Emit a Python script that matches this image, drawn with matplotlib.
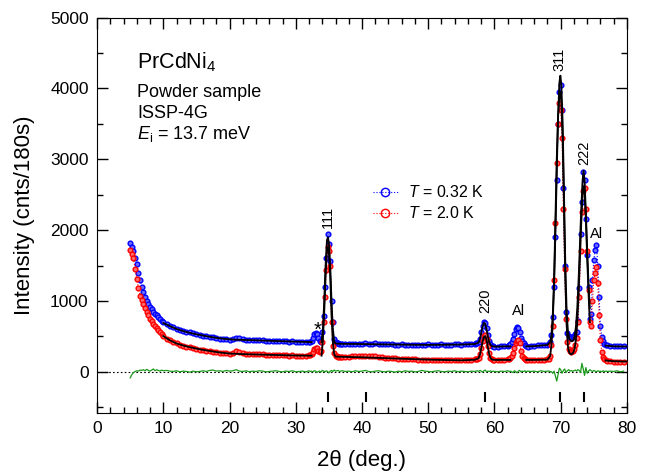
import matplotlib
matplotlib.use("Agg")

import matplotlib.pyplot as plt
import numpy as np
from matplotlib.lines import Line2D
from matplotlib.ticker import MultipleLocator

plt.rcParams["font.family"] = ["Liberation Sans", "DejaVu Sans"]
plt.rcParams["mathtext.fontset"] = "custom"
plt.rcParams["mathtext.rm"] = "Liberation Sans"
plt.rcParams["mathtext.it"] = "Liberation Sans:italic"
plt.rcParams["mathtext.bf"] = "Liberation Sans:bold"

# scan segments of the measurement: (start, stop, step) in 2theta
SCAN_SEGMENTS = [
    (5.0, 10.0, 0.25),
    (10.5, 32.0, 0.5),
    (32.2, 37.0, 0.2),
    (37.5, 57.0, 0.5),
    (57.2, 60.0, 0.2),
    (60.5, 62.0, 0.5),
    (62.2, 65.0, 0.2),
    (65.5, 68.0, 0.5),
    (68.2, 77.0, 0.2),
    (77.5, 79.5, 0.5),
]

# T = 0.32 K counts
I_032K = [
    1820, 1760, 1700, 1610, 1520, 1400, 1290, 1200, 1120, 1060, 1005, 960, 920, 885, 850, 820, 795, 770, 745, 720, 703,
    675, 650, 630, 610, 595, 580, 565, 555, 545, 535, 520, 510, 505, 495, 485, 478, 470, 462, 458, 455, 465, 480,
    475, 460, 452, 448, 446, 452, 448, 444, 440, 436, 440, 436, 432, 438, 430, 426, 428, 424, 420, 418, 415, 420,
    425, 440, 480, 530, 550, 540, 480, 430, 420, 560, 790, 1200, 1600, 1940, 1800, 1560, 1000, 700, 470, 420, 405,
    400, 398, 395, 392,
    395, 392, 398, 394, 390, 396, 400, 392, 395, 405, 398, 390, 386, 392, 388, 384, 380, 386, 382, 378, 384, 380,
    376, 378, 382, 386, 380, 376, 384, 388, 382, 378, 384, 390, 386, 382, 388, 392, 396, 398,
    400, 405, 420, 470, 560, 650, 700, 690, 620, 520, 440, 395, 370, 360, 355,
    355, 358, 360, 370,
    380, 395, 420, 460, 540, 610, 635, 620, 560, 480, 430, 400, 375, 362, 356,
    360, 365, 372, 378, 380, 385,
    395, 420, 520, 780, 1200, 1900, 2700, 3500, 3950, 4050, 3700, 2600, 1500, 850, 545, 500, 490, 480, 485, 500,
    530, 560, 720, 1180, 1950, 2400, 2820, 2700, 2150, 1650, 1200, 740, 820, 1300, 1580, 1720, 1790, 1500, 1050,
    650, 490, 430, 395, 380, 372,
    365, 360, 362, 358, 360,
]

# T = 2.0 K counts
I_20K = [
    1720, 1660, 1600, 1450, 1310, 1180, 1075, 1010, 960, 900, 845, 795, 750, 715, 680, 650, 620, 590, 565, 535, 505,
    470, 445, 420, 400, 385, 370, 357, 345, 335, 325, 315, 307, 300, 292, 285, 278, 272, 266, 260, 255, 268, 290,
    280, 262, 255, 250, 252, 248, 250, 246, 243, 240, 244, 238, 240, 236, 234, 230, 232, 226, 225, 228, 224, 240,
    240, 255, 285, 320, 340, 335, 300, 280, 300, 420, 700, 1060, 1440, 1760, 1700, 1500, 700, 360, 270, 230, 220,
    215, 212, 215, 210,
    212, 215, 220, 218, 225, 228, 222, 220, 226, 225, 215, 205, 200, 198, 192, 190, 185, 188, 182, 178, 175, 178,
    172, 169, 172, 168, 165, 170, 166, 162, 165, 160, 163, 160, 165, 162, 160, 165, 170, 175,
    178, 185, 200, 250, 340, 430, 500, 515, 470, 360, 260, 200, 175, 168, 165,
    168, 165, 170, 180,
    185, 200, 230, 270, 330, 400, 440, 450, 400, 300, 230, 195, 178, 170, 168,
    168, 170, 166, 170, 172, 175,
    180, 220, 380, 640, 1300, 2100, 2950, 3500, 3800, 3700, 3300, 2300, 1450, 750, 420, 320, 290, 285, 295, 320,
    380, 480, 700, 1060, 1700, 2250, 2550, 2600, 2300, 1700, 1150, 700, 650, 1000, 1300, 1400, 1480, 1250, 800,
    450, 280, 210, 180, 165, 158,
    150, 145, 142, 140, 142,
]

# difference curve
DIFF = [
    -85, -40, -10, 5, 15, 10, 25, 20, 30, 15, 35, 20, 10, 25, 40, 15, 30, 20, 10, 25, 15,
    20, 10, 5, 15, 0, 10, 5, -5, 10, 0, 5, 15, 5, 20, 25, 10, 15, 5, 20, 10, 15, 30, 10, 5, 15, 0, 10, 5, 15, 10,
    0, 5, 10, 15, 5, 0, 10, 5, 15, 0, 5, 10, 0, 15,
    5, 10, 0, 15, 10, -10, 5, 10, -5, 20, 10, 0, 15, 5, -15, 10, 20, 5, 25, 10, 15, 20, 5, 10, 15,
    5, 10, 0, 15, 5, 10, 20, 5, 0, 10, 15, 5, 0, 10, 5, -5, 10, 0, 15, 5, 10, 0, 5, 20, 10, 5, 0, 10, 15, 5, 0,
    10, 5, 15, 0, 10, 5, 0, 10, 5,
    10, 15, 5, 20, 10, -5, 15, 25, 0, 10, 5, 15, 0, 10, 5,
    0, 10, 5, 15,
    5, 10, 0, -10, 15, 5, -15, 10, 20, 0, 10, 5, 15, 0, 10,
    5, 10, 0, 15, 5, 10,
    10, 5, 0, -20, 10, -60, -130, -40, 50, 30, -20, 20, 40, -10, 15, 30, 10, 20, 5, 15, 25, 10, 30, 20, -10,
    120, 40, -50, 60, -20, 10, 30, 15, 5, 20, 10, 0, 15, 5, 10, 0, 15, 5, 10, 5,
    10, 5, 15, 0, 10,
]

# fitted profiles (nan = excluded region)
FIT_X = [
    10, 11, 12, 13, 14, 15, 16, 17, 18, 19, 20, 22, 24, 26, 28, 30, 32.4, np.nan,
    33.9, 34.1, 34.3, 34.5, 34.7, 34.85, 35.0, 35.2, 35.4, 35.6, 35.8, 36.0, 37, 40, 45, 50, 55, 57, 57.6, 57.8,
    58.0, 58.2, 58.4, 58.6, 58.8, 59.0, 59.2, 59.4, 59.6, 60, 62.4, np.nan,
    64.8, 66, 68, 68.4, 68.6, 68.8, 69.0, 69.2, 69.4, 69.6, 69.8, 69.95, 70.1, 70.3, 70.5, 70.7, 70.9, 71.1,
    71.3, 71.6, 71.9, 72.1, 72.3, 72.5, 72.7, 72.9, 73.1, 73.3, 73.45, 73.6, 73.8, 74.0, 74.2, 74.4, np.nan,
    76.8, 78, 80,
]
FIT_032K = [
    690, 645, 605, 575, 550, 530, 512, 495, 480, 468, 458, 450, 445, 438, 432, 426, 420, np.nan,
    420, 600, 1000, 1500, 1850, 1900, 1820, 1500, 1000, 600, 430, 400, 395, 392, 385, 380, 385, 392, 410, 460,
    550, 640, 690, 680, 600, 500, 420, 380, 362, 356, 360, np.nan,
    360, 362, 380, 420, 520, 800, 1250, 1950, 2800, 3600, 4080, 4180, 4050, 3500, 2500, 1500, 850, 560,
    470, 430, 440, 500, 640, 900, 1300, 1800, 2300, 2700, 2840, 2700, 2250, 1700, 1250, 900, np.nan,
    370, 360, 356,
]
FIT_20K = [
    505, 445, 400, 372, 348, 328, 310, 295, 280, 268, 258, 250, 245, 240, 235, 230, 228, np.nan,
    228, 450, 850, 1350, 1700, 1760, 1700, 1350, 800, 420, 250, 215, 212, 205, 188, 172, 162, 170, 190, 240,
    330, 420, 490, 505, 450, 350, 250, 195, 175, 168, 168, np.nan,
    168, 168, 172, 220, 380, 680, 1300, 2150, 3000, 3600, 3900, 3950, 3800, 3250, 2300, 1300, 650, 350,
    270, 245, 270, 330, 460, 700, 1100, 1600, 2100, 2500, 2620, 2550, 2150, 1600, 1100, 700, np.nan,
    160, 150, 145,
]

# Bragg positions of PrCdNi4
BRAGG = [34.8, 40.6, 58.5, 69.9, 73.5]

# peak labels: (text, x, y, rotation)
PEAK_LABELS = [
    ("111", 34.9, 2190, 90),
    ("220", 58.6, 1000, 90),
    ("Al", 63.6, 860, 0),
    ("311", 69.8, 4410, 90),
    ("222", 73.5, 3090, 90),
    ("Al", 75.4, 1950, 0),
]

two_theta = np.concatenate([np.arange(a, b + s / 2, s) for a, b, s in SCAN_SEGMENTS]).round(2)

fig = plt.figure(figsize=(6.47, 4.73), dpi=100)
ax = fig.add_axes([0.150, 0.127, 0.819, 0.836])

ax.axhline(0, color="black", lw=0.8, ls=(0, (1.5, 2)), zorder=1)
ax.plot(two_theta, DIFF, color="#1a9a1a", lw=0.9, zorder=2)

ax.plot(two_theta, I_032K, color="blue", ls=":", lw=0.8, marker="o", ms=3.4,
        mfc="#6a6aff", mec="blue", mew=1.0, zorder=3)
ax.plot(two_theta, I_20K, color="red", ls=":", lw=0.8, marker="o", ms=3.4,
        mfc="#ff6a6a", mec="red", mew=1.0, zorder=4)

ax.plot(FIT_X, FIT_032K, color="black", lw=1.3, zorder=5)
ax.plot(FIT_X, FIT_20K, color="black", lw=1.3, zorder=5)

ax.vlines(BRAGG, -420, -280, color="black", lw=1.5)

for txt, x, y, rot in PEAK_LABELS:
    ax.text(x, y, txt, rotation=rot, ha="center", va="center", fontsize=10.5)
ax.text(33.3, 590, "*", ha="center", va="center", fontsize=15)

ax.text(0.0755, 0.871, "PrCdNi$_4$", transform=ax.transAxes, fontsize=15.5, va="baseline")
ax.text(0.0755, 0.798, "Powder sample", transform=ax.transAxes, fontsize=13, va="baseline")
ax.text(0.0755, 0.745, "ISSP-4G", transform=ax.transAxes, fontsize=13, va="baseline")
ax.text(0.0755, 0.692, "$E_\\mathrm{i}$ = 13.7 meV", transform=ax.transAxes, fontsize=13, va="baseline")

handles = [
    Line2D([], [], color="blue", ls=":", lw=0.8, marker="o", ms=6, mfc="none", mec="blue", mew=1.0),
    Line2D([], [], color="red", ls=":", lw=0.8, marker="o", ms=6, mfc="none", mec="red", mew=1.0),
]
ax.legend(handles, ["$T$ = 0.32 K", "$T$ = 2.0 K"], loc="upper left", bbox_to_anchor=(0.52, 0.578),
          frameon=False, fontsize=11.5, handlelength=1.6, handletextpad=0.6, labelspacing=0.3,
          borderpad=0, borderaxespad=0)

ax.set_xlim(0, 80)
ax.set_ylim(-580, 5000)
ax.xaxis.set_major_locator(MultipleLocator(10))
ax.xaxis.set_minor_locator(MultipleLocator(2))
ax.yaxis.set_major_locator(MultipleLocator(1000))
ax.yaxis.set_minor_locator(MultipleLocator(500))
ax.tick_params(which="both", direction="in", top=True, right=True, width=1.0)
ax.tick_params(which="major", length=8, labelsize=12.5, pad=6)
ax.tick_params(which="minor", length=4)

ax.set_xlabel("2θ (deg.)", fontsize=16, labelpad=10)
ax.set_ylabel("Intensity (cnts/180s)", fontsize=16, labelpad=11)

fig.savefig("out.png", dpi=100)
plt.close(fig)
